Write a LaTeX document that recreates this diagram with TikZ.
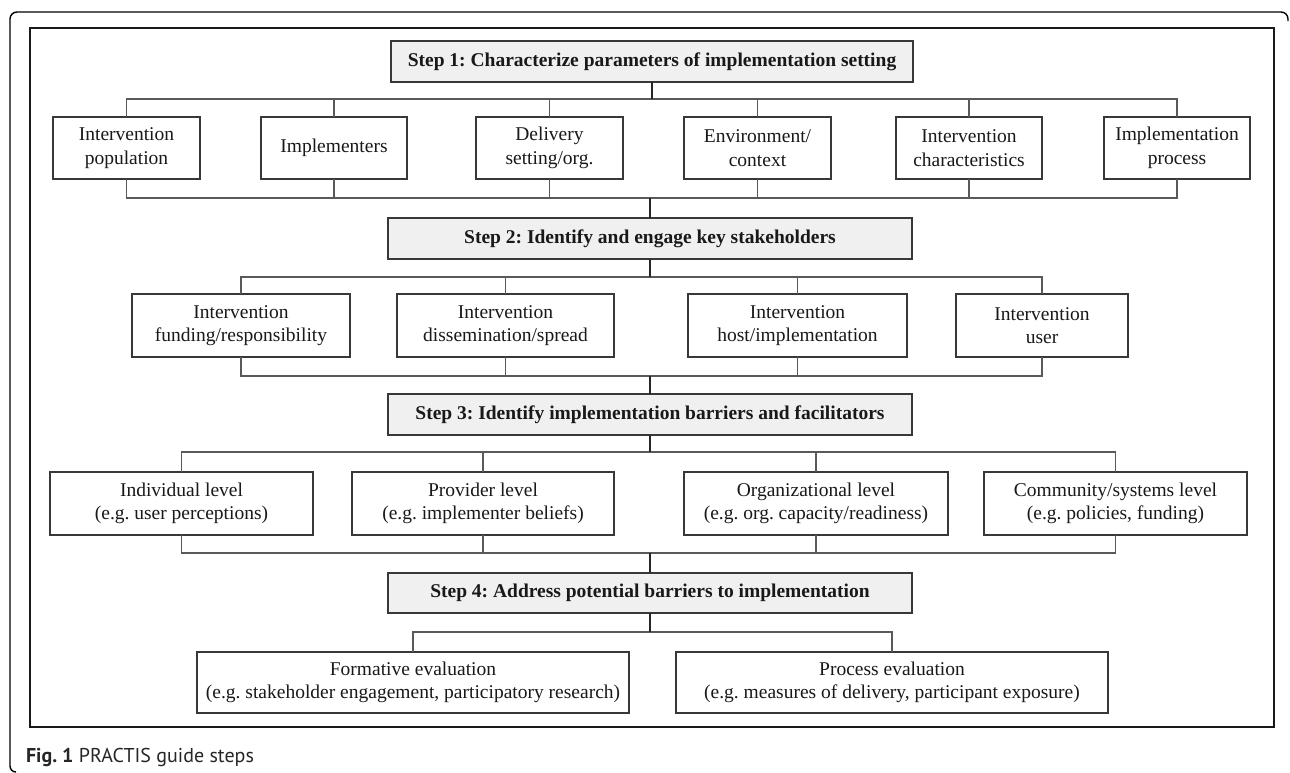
\documentclass[tikz,border=0pt]{standalone}
\usepackage{fontspec}
\setmainfont{Liberation Serif}
\newfontfamily\capfont{PT Sans}
\frenchspacing
\begin{document}
\begin{tikzpicture}[x=1pt,y=-1pt,
  every node/.style={inner sep=0pt, outer sep=0pt, align=center, text=black!90, font=\frenchspacing\fontsize{19.5}{23.5}\selectfont},
  itembox/.style={draw=black!78, line width=1.2pt, fill=white},
  stepbox/.style={draw=black!78, line width=1.2pt, fill=black!6, font=\frenchspacing\fontsize{19.5}{23.5}\selectfont\bfseries, minimum width=524pt},
  brk/.style={draw=black!65, line width=1.3pt},
  mainconn/.style={draw=black!85, line width=2pt},
  frame/.style={draw=black!90, line width=2.4pt}
]
\useasboundingbox (0,0) rectangle (1290,772);
\fill[white] (0,0) rectangle (1290,772);

% outer figure frame (partial rounded box)
\draw[black, line width=1.4pt] (16,772) arc[start angle=90, end angle=180, radius=6]
  -- (10,19) arc[start angle=180, end angle=270, radius=7] -- (1281,12)
  arc[start angle=-90, end angle=0, radius=7] -- (1288,21);
% inner frame
\draw[frame] (30,28) rectangle (1274,727);

% Step 1
\node[stepbox, minimum width=522pt, minimum height=41pt] (s1) at (652,61.5) {Step 1: Characterize parameters of implementation setting};
\node[itembox, minimum width=147pt, minimum height=62pt] (pop) at (126.5,148) {Intervention\\population};
\node[itembox, minimum width=146pt, minimum height=62pt] (impl) at (334,148) {Implementers};
\node[itembox, minimum width=147pt, minimum height=62pt] (deliv) at (549.5,148) {Delivery\\setting/org.};
\node[itembox, minimum width=147pt, minimum height=62pt] (env) at (757.5,148) {Environment/\\context};
\node[itembox, minimum width=146pt, minimum height=62pt] (char) at (969,148) {Intervention\\characteristics};
\node[itembox, minimum width=146pt, minimum height=62pt] (proc) at (1177,148) {Implementation\\process};

% Step 2
\node[stepbox, minimum height=41pt] (s2) at (650,238.5) {Step 2: Identify and engage key stakeholders};
\node[itembox, minimum width=218pt, minimum height=63pt] (fund) at (241,325.5) {Intervention\\funding/responsibility};
\node[itembox, minimum width=217pt, minimum height=63pt] (diss) at (505.5,325.5) {Intervention\\dissemination/spread};
\node[itembox, minimum width=219pt, minimum height=63pt] (host) at (797.5,325.5) {Intervention\\host/implementation};
\node[itembox, minimum width=172pt, minimum height=63pt] (user) at (1042,325.5) {Intervention\\user};

% Step 3
\node[stepbox, minimum height=41pt] (s3) at (650,414.5) {Step 3: Identify implementation barriers and facilitators};
\node[itembox, minimum width=263pt, minimum height=63pt] (indiv) at (181.5,503.5) {Individual level\\(e.g. user perceptions)};
\node[itembox, minimum width=262pt, minimum height=63pt] (prov) at (483,503.5) {Provider level\\(e.g. implementer beliefs)};
\node[itembox, minimum width=264pt, minimum height=63pt] (org) at (816,503.5) {Organizational level\\(e.g. org. capacity/readiness)};
\node[itembox, minimum width=263pt, minimum height=63pt] (comm) at (1115.5,503.5) {Community/systems level\\(e.g. policies, funding)};

% Step 4
\node[stepbox, minimum height=40pt] (s4) at (650,593) {Step 4: Address potential barriers to implementation};
\node[itembox, minimum width=432pt, minimum height=61pt] (form) at (413,682.5) {Formative evaluation\\(e.g. stakeholder engagement, participatory research)};
\node[itembox, minimum width=432pt, minimum height=61pt] (pev) at (892,682.5) {Process evaluation\\(e.g. measures of delivery, participant exposure)};

% bracket coordinates
\coordinate (b1t) at (652,99);
\coordinate (b1b) at (650,198);
\coordinate (b2t) at (650,277);
\coordinate (b2b) at (650,376);
\coordinate (b3t) at (650,452);
\coordinate (b3b) at (650,553);
\coordinate (b4t) at (650,632);

% Step 1 brackets
\draw[brk] (pop.north) -- (pop.north |- b1t) -- (proc.north |- b1t) -- (proc.north);
\foreach \n in {impl,deliv,env,char} \draw[brk] (\n.north) -- (\n.north |- b1t);
\draw[brk] (pop.south) -- (pop.south |- b1b) -- (proc.south |- b1b) -- (proc.south);
\foreach \n in {impl,deliv,env,char} \draw[brk] (\n.south) -- (\n.south |- b1b);
\draw[mainconn] (s1.south) -- (s1.south |- b1t);
\draw[mainconn] (b1b) -- (s2.north);

% Step 2 brackets
\draw[brk] (fund.north) -- (fund.north |- b2t) -- (user.north |- b2t) -- (user.north);
\foreach \n in {diss,host} \draw[brk] (\n.north) -- (\n.north |- b2t);
\draw[brk] (fund.south) -- (fund.south |- b2b) -- (user.south |- b2b) -- (user.south);
\foreach \n in {diss,host} \draw[brk] (\n.south) -- (\n.south |- b2b);
\draw[mainconn] (s2.south) -- (b2t);
\draw[mainconn] (b2b) -- (s3.north);

% Step 3 brackets
\draw[brk] (indiv.north) -- (indiv.north |- b3t) -- (comm.north |- b3t) -- (comm.north);
\foreach \n in {prov,org} \draw[brk] (\n.north) -- (\n.north |- b3t);
\draw[brk] (indiv.south) -- (indiv.south |- b3b) -- (comm.south |- b3b) -- (comm.south);
\foreach \n in {prov,org} \draw[brk] (\n.south) -- (\n.south |- b3b);
\draw[mainconn] (s3.south) -- (b3t);
\draw[mainconn] (b3b) -- (s4.north);

% Step 4 bracket
\draw[brk] (form.north) -- (form.north |- b4t) -- (pev.north |- b4t) -- (pev.north);
\draw[mainconn] (s4.south) -- (b4t);

% caption
\node[anchor=base west, font=\capfont\fontsize{20}{24}\selectfont, text=black!85] (cap) at (26,762) {\textbf{Fig. 1} PRACTIS guide steps};
\end{tikzpicture}
\end{document}
